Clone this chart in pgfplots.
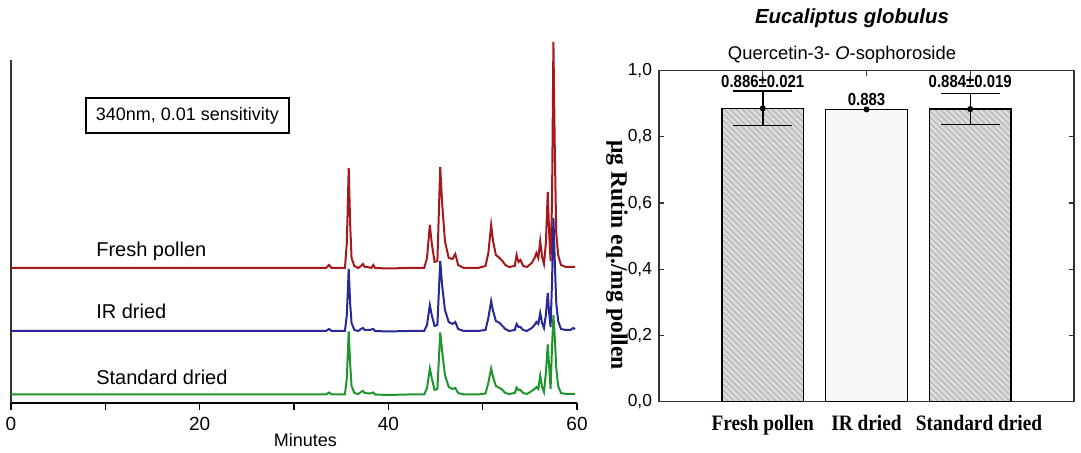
\documentclass[border=0pt]{standalone}
\usepackage{pgfplots}
\pgfplotsset{compat=1.18}
\usepackage{fontspec}
\setmainfont{Liberation Sans}
\newfontfamily\serifb{Liberation Serif}
\usetikzlibrary{patterns}
\definecolor{cred}{RGB}{165,25,30}
\definecolor{cblue}{RGB}{40,40,150}
\definecolor{cgreen}{RGB}{30,150,45}
\begin{document}
\begin{tikzpicture}
\useasboundingbox (0,0) rectangle (540.5pt,226.5pt);
% ---------------- left: chromatograms ----------------
\begin{axis}[
  at={(5.5pt,25pt)}, anchor=south west,
  scale only axis, width=283pt, height=171.5pt,
  xmin=0, xmax=60, ymin=0, ymax=343,
  clip=false,
  axis x line=bottom, axis y line=left,
  x axis line style={-, line width=1.2pt, black},
  y axis line style={-, line width=0.7pt, black!80},
  xtick={0,20,40,60}, minor xtick={10,30,50}, ytick=\empty,
  tick align=outside,
  major tick length=3.5pt, minor tick length=3.5pt,
  every tick/.style={black, line width=0.6pt},
  /pgf/number format/assume math mode=true,
  tick label style={font=\fontsize{9.5}{11}\selectfont},
]
\addplot[cred, line width=1pt] coordinates {
(0,135) (33.4,135) (33.7,138) (34.0,135) (35.4,135) (35.6,160) (35.8,235) (35.95,180) (36.1,145) (36.4,137) (36.8,135)
(37.1,137) (37.3,139) (37.5,136) (37.8,136) (38.2,135) (38.4,138) (38.6,135) (40,134.5) (42,135) (43.8,135)
(44.1,145) (44.4,178) (44.6,160) (44.9,141) (45.2,142) (45.5,236) (45.7,200) (46.0,162) (46.4,145) (46.8,144)
(47.1,149) (47.4,138) (48.0,135) (49.5,135) (50.3,137) (50.6,150) (50.9,178) (51.1,162) (51.4,148) (51.8,145)
(52.1,142) (52.4,138) (52.8,136) (53.4,137) (53.6,148) (53.8,141) (54.0,143) (54.3,137) (54.7,136) (55.2,140)
(55.5,145) (55.7,150) (55.9,145) (56.1,162) (56.3,146) (56.5,139) (56.7,160) (56.9,211) (57.05,170) (57.2,142)
(57.35,200) (57.5,361) (57.65,250) (57.8,170) (58.0,148) (58.3,138) (58.8,136) (59.8,136)
};
\addplot[cblue, line width=1pt] coordinates {
(0,72) (33.4,72) (33.7,74) (34.0,72) (35.4,72) (35.6,88) (35.8,134) (35.95,100) (36.1,80) (36.4,73) (36.8,72)
(37.1,74) (37.3,75) (37.5,73) (38.0,73) (38.4,74) (38.6,72) (40,71.5) (42,72) (43.8,72)
(44.1,78) (44.4,98) (44.6,88) (44.9,77) (45.2,78) (45.5,142) (45.7,118) (46.0,93) (46.4,81) (46.8,79)
(47.1,81) (47.4,74) (48.0,72) (49.5,72) (50.3,73) (50.6,85) (50.9,102) (51.1,92) (51.4,82) (51.8,80)
(52.1,77) (52.4,74) (52.8,72) (53.4,73) (53.6,79) (53.8,76) (54.0,76) (54.3,73) (54.7,72) (55.2,75)
(55.5,78) (55.7,81) (55.9,79) (56.1,90) (56.3,80) (56.5,75) (56.7,88) (56.9,110) (57.05,90) (57.2,76)
(57.35,120) (57.5,185) (57.65,140) (57.8,100) (58.0,82) (58.3,74) (58.8,73) (59.3,73) (59.6,75) (59.8,74)
};
\addplot[cgreen, line width=1pt] coordinates {
(0,8.5) (33.4,8.5) (33.7,10.5) (34.0,8.5) (35.4,8.5) (35.6,25) (35.8,71.5) (35.95,40) (36.1,17) (36.4,10) (36.8,9)
(37.1,11) (37.3,12) (37.5,10) (38.0,9.5) (38.4,10.5) (38.6,8.5) (40,8) (42,8.5) (43.8,8.5)
(44.1,15) (44.4,34.5) (44.6,25) (44.9,13) (45.2,14) (45.5,70.5) (45.7,52) (46.0,28) (46.4,16) (46.8,14)
(47.1,15) (47.4,10) (48.0,8.5) (49.5,8.5) (50.3,9.5) (50.6,20) (50.9,34.5) (51.1,26) (51.4,17) (51.8,15)
(52.1,13) (52.4,10) (52.8,9) (53.4,10) (53.6,15.5) (53.8,13) (54.0,13) (54.3,10) (54.7,9) (55.2,12)
(55.5,14) (55.7,16) (55.9,14) (56.1,27.5) (56.3,16) (56.5,11) (56.7,30) (56.9,58.5) (57.05,36) (57.2,14)
(57.35,55) (57.5,88) (57.65,65) (57.8,35) (58.0,17) (58.3,10) (58.8,9) (59.8,9)
};
\node[draw, line width=0.8pt, minimum width=101.5pt, minimum height=17.5pt, inner sep=0pt,
  font=\fontsize{9}{11}\selectfont] at (axis cs:18.7,287.5) {340nm, 0.01 sensitivity};
\node[anchor=west, inner sep=0pt, font=\fontsize{10}{12}\selectfont] at (axis cs:9.0,152) {Fresh pollen};
\node[anchor=west, inner sep=0pt, font=\fontsize{10}{12}\selectfont] at (axis cs:9.0,92) {IR dried};
\node[anchor=west, inner sep=0pt, font=\fontsize{10}{12}\selectfont] at (axis cs:9.0,26) {Standard dried};
\node[font=\fontsize{9}{11}\selectfont] at (axis cs:31.2,-37) {Minutes};
\end{axis}
% ---------------- right: bar chart ----------------
\begin{axis}[
  at={(329.5pt,25.65pt)}, anchor=south west,
  scale only axis, width=207.5pt, height=165.5pt,
  xmin=0, xmax=4, ymin=0, ymax=1,
  clip=false,
  axis line style={line width=0.75pt, black!80},
  xtick={1,2,3}, xticklabels={Fresh pollen, IR dried, \hspace*{10pt}Standard dried},
  ytick={0,0.2,0.4,0.6,0.8,1.0},
  tick align=inside, xtick pos=both, ytick pos=both,
  xticklabel pos=bottom, yticklabel pos=left,
  major tick length=2.5pt,
  every tick/.style={black!80, line width=0.6pt},
  /pgf/number format/.cd, use comma, fixed, fixed zerofill, precision=1, assume math mode=true,
  /pgfplots/.cd,
  yticklabel style={font=\fontsize{8.7}{10}\selectfont},
  xticklabel style={font=\serifb\bfseries\fontsize{11}{13}\selectfont, xscale=0.88, yshift=-3pt},
]
\addplot[ybar, bar width=0.79, bar shift=0pt, draw=black, line width=0.75pt, fill=black!14,
  postaction={pattern=north west lines, pattern color=black!32}] coordinates {(1,0.886)};
\addplot[ybar, bar width=0.79, bar shift=0pt, draw=black, line width=0.75pt, fill=black!3] coordinates {(2,0.883)};
\addplot[ybar, bar width=0.79, bar shift=0pt, draw=black, line width=0.75pt, fill=black!14,
  postaction={pattern=north west lines, pattern color=black!32}] coordinates {(3,0.884)};
\addplot[black, only marks, mark=*, mark size=1.1pt, line width=0.75pt,
  error bars/.cd, y dir=both, y explicit,
  error bar style={line width=0.75pt, black},
  error mark options={line width=0.75pt, mark size=14.75pt, black, rotate=90}]
  coordinates {(1,0.886) +- (0,0.052) (2,0.883) +- (0,0) (3,0.884) +- (0,0.047)};
\node[font=\bfseries\fontsize{8.7}{10}\selectfont, xscale=0.86] at (axis cs:1,0.967) {0.886±0.021};
\node[font=\bfseries\fontsize{8.7}{10}\selectfont, xscale=0.86] at (axis cs:2,0.914) {0.883};
\node[font=\bfseries\fontsize{8.7}{10}\selectfont, xscale=0.86] at (axis cs:3,0.967) {0.884±0.019};
\end{axis}
\node[font=\bfseries\itshape\fontsize{10.2}{12}\selectfont] at (426pt,217.5pt) {Eucaliptus globulus};
\node[font=\fontsize{9.2}{11}\selectfont] at (421pt,199pt) {Quercetin-3- \textit{O}-sophoroside};
\node[rotate=-90, font=\serifb\bfseries\fontsize{11.8}{13}\selectfont] at (308.5pt,99pt) {μg Rutin eq./mg pollen};
\end{tikzpicture}
\end{document}
